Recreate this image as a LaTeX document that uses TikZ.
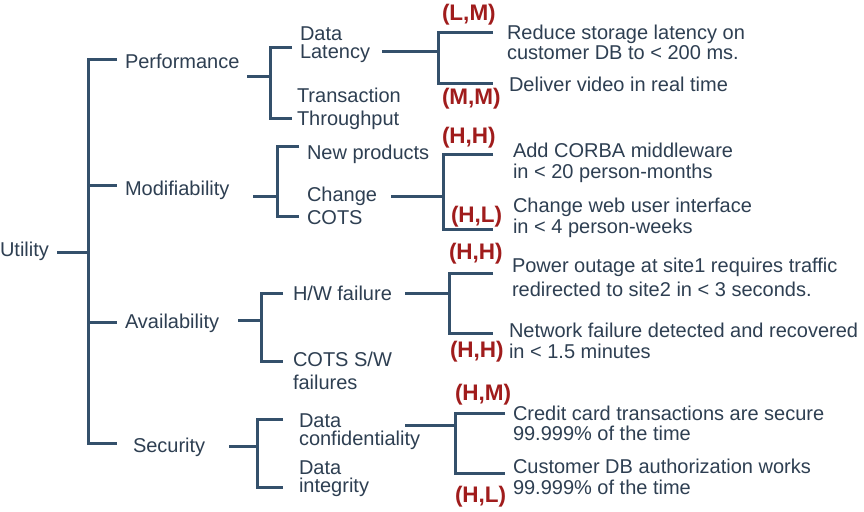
\documentclass[tikz,border=0pt]{standalone}
\usepackage{fontspec}
\setmainfont{Liberation Sans}
\definecolor{lncol}{HTML}{34506B}
\definecolor{txcol}{HTML}{2E3F52}
\definecolor{rdcol}{HTML}{A01C1C}
\begin{document}
\begin{tikzpicture}[x=1pt,y=-1pt,
  ln/.style={line width=3pt,draw=lncol,line cap=butt,line join=miter},
  lbl/.style={anchor=west,inner sep=0pt,outer sep=0pt,align=left,text=txcol,
    font=\fontsize{20}{#1}\selectfont},
  lbl/.default=20,
  rate/.style={anchor=west,inner sep=0pt,outer sep=0pt,text=rdcol,
    font=\fontsize{22.5}{24}\selectfont\bfseries}]
\useasboundingbox[fill=white] (0,0) rectangle (864,511);

% ---- text nodes
\node[lbl] (utility) at (0,251) {Utility};
\node[lbl] (perf) at (125,61) {Performance};
\node[lbl] (modi) at (125,190) {Modifiability};
\node[lbl] (avai) at (125,323) {Availability};
\node[lbl] (secu) at (133,447) {Security};

\node[lbl=18] (dlat) at (300,44.5) {Data\\Latency};
\node[lbl=23] (tput) at (297,108.5) {Transaction\\Throughput};
\node[lbl] (newp) at (307,154) {New products};
\node[lbl=23] (cots) at (307,205.5) {Change\\COTS};
\node[lbl] (hwf) at (293,293) {H/W failure};
\node[lbl=23] (swf) at (293,370.5) {COTS S/W\\failures};
\node[lbl=18] (dconf) at (299,431.5) {Data\\confidentiality};
\node[lbl=18] (dint) at (299,478.5) {Data\\integrity};

\node[lbl=20] (s1) at (507,42) {Reduce storage latency on\\customer DB to < 200 ms.};
\node[lbl] (s2) at (509,84) {Deliver video in real time};
\node[lbl=21] (s3) at (513,162.5) {Add CORBA middleware\\in < 20 person-months};
\node[lbl=21] (s4) at (513,217.5) {Change web user interface\\in < 4 person-weeks};
\node[lbl=24] (s5) at (512,277) {Power outage at site1 requires traffic\\redirected to site2 in < 3 seconds.};
\node[lbl=21] (s6) at (509,340.5) {Network failure detected and recovered\\in < 1.5 minutes};
\node[lbl=20] (s7) at (513,423) {Credit card transactions are secure\\99.999\% of the time};
\node[lbl=21] (s8) at (513,476.5) {Customer DB authorization works\\99.999\% of the time};

% ---- ratings
\node[rate] (r1) at (442,15) {(L,M)};
\node[rate] (r2) at (442,99) {(M,M)};
\node[rate] (r3) at (442,138) {(H,H)};
\node[rate] (r4) at (451,217) {(H,L)};
\node[rate] (r5) at (449,254) {(H,H)};
\node[rate] (r6) at (450,352) {(H,H)};
\node[rate] (r7) at (455,395) {(H,M)};
\node[rate] (r8) at (455,497) {(H,L)};

% ---- junction coordinates
% root bracket
\coordinate (u0) at (57,252);  \coordinate (uj) at (88,252);
\coordinate (ua) at (88,60);   \coordinate (uae) at (117,60);
\coordinate (ub) at (88,185);  \coordinate (ube) at (117,185);
\coordinate (uc) at (88,322);  \coordinate (uce) at (117,322);
\coordinate (ud) at (88,443);  \coordinate (ude) at (117,443);
% performance
\coordinate (p0) at (247,76);  \coordinate (pj) at (270,76);
\coordinate (pa) at (270,48);  \coordinate (pae) at (292,48);
\coordinate (pb) at (270,118); \coordinate (pbe) at (292,118);
% modifiability
\coordinate (m0) at (253,196); \coordinate (mj) at (277,196);
\coordinate (ma) at (277,146); \coordinate (mae) at (299,146);
\coordinate (mb) at (277,216); \coordinate (mbe) at (299,216);
% availability
\coordinate (a0) at (238,320); \coordinate (aj) at (261,320);
\coordinate (aa) at (261,293); \coordinate (aae) at (283,293);
\coordinate (ab) at (261,361); \coordinate (abe) at (283,361);
% security
\coordinate (c0) at (229,446); \coordinate (cj) at (257,446);
\coordinate (ca) at (257,419); \coordinate (cae) at (283,419);
\coordinate (cb) at (257,487); \coordinate (cbe) at (283,487);
% data latency
\coordinate (l0) at (382,52);  \coordinate (lj) at (438,52);
\coordinate (la) at (438,33);  \coordinate (lae) at (493,33);
\coordinate (lb) at (438,83);  \coordinate (lbe) at (493,83);
% change cots
\coordinate (k0) at (391,196); \coordinate (kj) at (443,196);
\coordinate (ka) at (443,154); \coordinate (kae) at (493,154);
\coordinate (kb) at (443,229); \coordinate (kbe) at (493,229);
% hw failure
\coordinate (h0) at (405,293); \coordinate (hj) at (449,293);
\coordinate (ha) at (449,273); \coordinate (hae) at (493,273);
\coordinate (hb) at (449,333); \coordinate (hbe) at (493,333);
% data confidentiality
\coordinate (d0) at (405,425); \coordinate (dj) at (455,425);
\coordinate (da) at (455,413); \coordinate (dae) at (505,413);
\coordinate (db) at (455,473); \coordinate (dbe) at (505,473);

% ---- connectors
\draw[ln] (u0) -- (uj);
\draw[ln] (uae) -- (ua) -- (ud) -- (ude);
\draw[ln] (ub) -- (ube);
\draw[ln] (uc) -- (uce);

\draw[ln] (p0) -- (pj);
\draw[ln] (pae) -- (pa) -- (pb) -- (pbe);
\draw[ln] (m0) -- (mj);
\draw[ln] (mae) -- (ma) -- (mb) -- (mbe);
\draw[ln] (a0) -- (aj);
\draw[ln] (aae) -- (aa) -- (ab) -- (abe);
\draw[ln] (c0) -- (cj);
\draw[ln] (cae) -- (ca) -- (cb) -- (cbe);

\draw[ln] (l0) -- (lj);
\draw[ln] (lae) -- (la) -- (lb) -- (lbe);
\draw[ln] (k0) -- (kj);
\draw[ln] (kae) -- (ka) -- (kb) -- (kbe);
\draw[ln] (h0) -- (hj);
\draw[ln] (hae) -- (ha) -- (hb) -- (hbe);
\draw[ln] (d0) -- (dj);
\draw[ln] (dae) -- (da) -- (db) -- (dbe);
\end{tikzpicture}
\end{document}
